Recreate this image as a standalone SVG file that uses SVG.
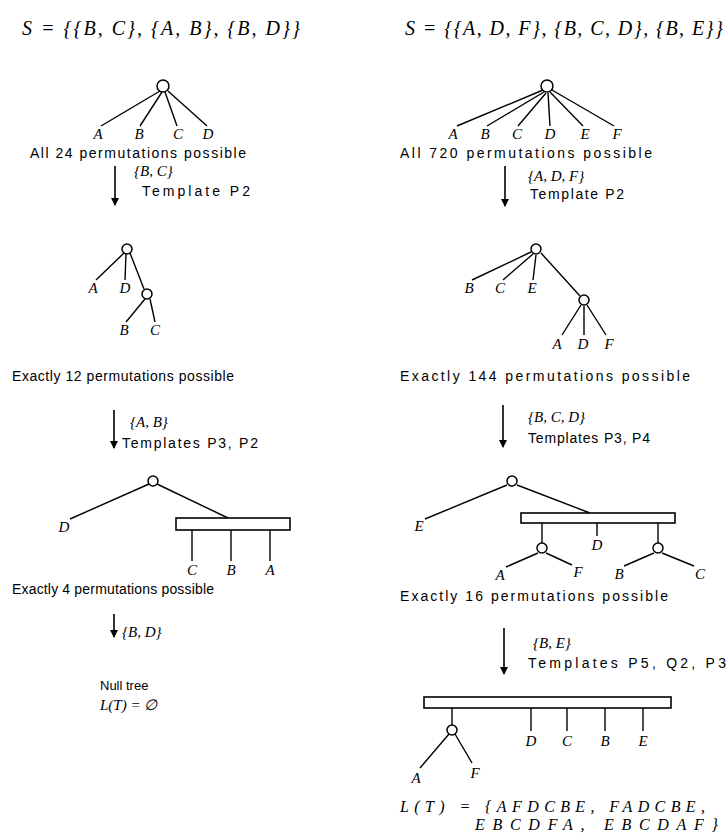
<svg xmlns="http://www.w3.org/2000/svg" width="728" height="837" viewBox="0 0 728 837">
<style>
.t{font-family:"Liberation Sans",Arial,sans-serif;font-size:14px;fill:#000}
.v{font-family:"Liberation Serif","Times New Roman",serif;font-style:italic;font-size:15px;fill:#000}
.ttl{font-family:"Liberation Serif","Times New Roman",serif;font-style:italic;font-size:20px;fill:#000}
.lt{font-family:"Liberation Serif","Times New Roman",serif;font-style:italic;font-size:16px;fill:#000}
.e{stroke:#000;stroke-width:1.4;fill:none}
.p{stroke:#000;stroke-width:1.5;fill:#fff}
.q{stroke:#000;stroke-width:1.6;fill:#fff}
.a{stroke:#000;stroke-width:1.6;fill:none;marker-end:url(#ah)}
</style>
<defs>
<marker id="ah" markerWidth="8" markerHeight="8" refX="7" refY="4" orient="auto" markerUnits="userSpaceOnUse">
<path d="M0,0 L8,4 L0,8 Z" fill="#000"/>
</marker>
</defs>

<!-- ===== LEFT COLUMN ===== -->
<g id="left-title"><text class="ttl" x="22" y="35" textLength="278" lengthAdjust="spacing">S = {{B, C}, {A, B}, {B, D}}</text></g>

<g id="connectors">
<!-- left tree 1 -->
<line class="e" x1="160" y1="91" x2="101" y2="126"/>
<line class="e" x1="162" y1="92" x2="140" y2="126"/>
<line class="e" x1="165" y1="92" x2="177" y2="126"/>
<line class="e" x1="168" y1="91" x2="207" y2="126"/>
<!-- left tree 2 -->
<line class="e" x1="124" y1="253" x2="96" y2="280"/>
<line class="e" x1="126" y1="254" x2="125" y2="280"/>
<line class="e" x1="130" y1="253" x2="144" y2="289"/>
<line class="e" x1="145" y1="299" x2="126" y2="322"/>
<line class="e" x1="150" y1="299" x2="155" y2="322"/>
<!-- left tree 3 -->
<line class="e" x1="149" y1="484" x2="70" y2="519"/>
<line class="e" x1="157" y1="484" x2="228" y2="518"/>
<line class="e" x1="192" y1="530" x2="192" y2="561"/>
<line class="e" x1="231" y1="530" x2="231" y2="561"/>
<line class="e" x1="270" y1="530" x2="270" y2="561"/>
<!-- right tree 1 -->
<line class="e" x1="543" y1="90" x2="457" y2="126"/>
<line class="e" x1="544" y1="92" x2="487" y2="126"/>
<line class="e" x1="546" y1="93" x2="518" y2="126"/>
<line class="e" x1="548" y1="93" x2="550" y2="126"/>
<line class="e" x1="550" y1="92" x2="583" y2="126"/>
<line class="e" x1="552" y1="90" x2="614" y2="126"/>
<!-- right tree 2 -->
<line class="e" x1="531" y1="252" x2="472" y2="280"/>
<line class="e" x1="533" y1="254" x2="503" y2="280"/>
<line class="e" x1="536" y1="255" x2="533" y2="280"/>
<line class="e" x1="541" y1="253" x2="580" y2="296"/>
<line class="e" x1="581" y1="305" x2="562" y2="335"/>
<line class="e" x1="584" y1="306" x2="584" y2="335"/>
<line class="e" x1="587" y1="305" x2="606" y2="335"/>
<!-- right tree 3 -->
<line class="e" x1="507" y1="485" x2="425" y2="519"/>
<line class="e" x1="517" y1="485" x2="590" y2="513"/>
<line class="e" x1="542" y1="523" x2="542" y2="543"/>
<line class="e" x1="597" y1="523" x2="597" y2="536"/>
<line class="e" x1="658" y1="523" x2="658" y2="543"/>
<line class="e" x1="538" y1="553" x2="506" y2="567"/>
<line class="e" x1="546" y1="553" x2="572" y2="565"/>
<line class="e" x1="654" y1="553" x2="624" y2="566"/>
<line class="e" x1="662" y1="553" x2="694" y2="566"/>
<!-- right tree 4 -->
<line class="e" x1="452" y1="708" x2="452" y2="725"/>
<line class="e" x1="449" y1="734" x2="420" y2="768"/>
<line class="e" x1="455" y1="734" x2="472" y2="763"/>
<line class="e" x1="531" y1="708" x2="531" y2="731"/>
<line class="e" x1="567" y1="708" x2="567" y2="731"/>
<line class="e" x1="605" y1="708" x2="605" y2="731"/>
<line class="e" x1="643" y1="708" x2="643" y2="731"/>
<!-- arrows -->
<line class="a" x1="115" y1="166" x2="115" y2="205"/>
<line class="a" x1="114" y1="410" x2="114" y2="448"/>
<line class="a" x1="114" y1="614" x2="114" y2="637"/>
<line class="a" x1="505" y1="166" x2="505" y2="206"/>
<line class="a" x1="503" y1="405" x2="503" y2="447"/>
<line class="a" x1="504" y1="628" x2="504" y2="674"/>
</g>

<g id="l1-root"><circle class="p" cx="163" cy="86" r="6"/></g>
<g id="l1-leaves">
<text class="v" x="98" y="139" text-anchor="middle">A</text>
<text class="v" x="139" y="139" text-anchor="middle">B</text>
<text class="v" x="178" y="139" text-anchor="middle">C</text>
<text class="v" x="208" y="139" text-anchor="middle">D</text>
</g>
<g id="l1-caption"><text class="t" x="30" y="158" textLength="216" lengthAdjust="spacing">All 24 permutations possible</text></g>
<g id="l-step1">
<text class="v" x="134" y="176">{B, C}</text>
<text class="t" x="142" y="196" textLength="108" lengthAdjust="spacing">Template P2</text>
</g>

<g id="l2-root"><circle class="p" cx="127" cy="249" r="5"/></g>
<g id="l2-pnode"><circle class="p" cx="147" cy="294" r="5"/></g>
<g id="l2-leaves">
<text class="v" x="93" y="293" text-anchor="middle">A</text>
<text class="v" x="125" y="293" text-anchor="middle">D</text>
<text class="v" x="124" y="335" text-anchor="middle">B</text>
<text class="v" x="155" y="335" text-anchor="middle">C</text>
</g>
<g id="l2-caption"><text class="t" x="12" y="381" textLength="222" lengthAdjust="spacing">Exactly 12 permutations possible</text></g>
<g id="l-step2">
<text class="v" x="130" y="427">{A, B}</text>
<text class="t" x="122" y="448" textLength="136" lengthAdjust="spacing">Templates P3, P2</text>
</g>

<g id="l3-root"><circle class="p" cx="153" cy="481" r="5"/></g>
<g id="l3-qnode"><rect class="q" x="176" y="518" width="114" height="12"/></g>
<g id="l3-leaves">
<text class="v" x="64" y="532" text-anchor="middle">D</text>
<text class="v" x="192" y="575" text-anchor="middle">C</text>
<text class="v" x="231" y="575" text-anchor="middle">B</text>
<text class="v" x="270" y="575" text-anchor="middle">A</text>
</g>
<g id="l3-caption"><text class="t" x="12" y="594" textLength="202" lengthAdjust="spacing">Exactly 4 permutations possible</text></g>
<g id="l-step3"><text class="v" x="122" y="637">{B, D}</text></g>
<g id="l-null">
<text class="t" x="100" y="690" style="font-size:13px">Null tree</text>
<text class="v" x="100" y="710">L(T) = ∅</text>
</g>

<!-- ===== RIGHT COLUMN ===== -->
<g id="right-title"><text class="ttl" x="405" y="35" textLength="318" lengthAdjust="spacing">S = {{A, D, F}, {B, C, D}, {B, E}}</text></g>

<g id="r1-root"><circle class="p" cx="547" cy="86" r="6"/></g>
<g id="r1-leaves">
<text class="v" x="453" y="139" text-anchor="middle">A</text>
<text class="v" x="485" y="139" text-anchor="middle">B</text>
<text class="v" x="517" y="139" text-anchor="middle">C</text>
<text class="v" x="550" y="139" text-anchor="middle">D</text>
<text class="v" x="585" y="139" text-anchor="middle">E</text>
<text class="v" x="617" y="139" text-anchor="middle">F</text>
</g>
<g id="r1-caption"><text class="t" x="400" y="158" textLength="252" lengthAdjust="spacing">All 720 permutations possible</text></g>
<g id="r-step1">
<text class="v" x="528" y="181">{A, D, F}</text>
<text class="t" x="530" y="199" textLength="94" lengthAdjust="spacing">Template P2</text>
</g>

<g id="r2-root"><circle class="p" cx="536" cy="249" r="5"/></g>
<g id="r2-pnode"><circle class="p" cx="584" cy="300" r="5"/></g>
<g id="r2-leaves">
<text class="v" x="469" y="293" text-anchor="middle">B</text>
<text class="v" x="500" y="293" text-anchor="middle">C</text>
<text class="v" x="532" y="293" text-anchor="middle">E</text>
<text class="v" x="557" y="349" text-anchor="middle">A</text>
<text class="v" x="583" y="349" text-anchor="middle">D</text>
<text class="v" x="609" y="349" text-anchor="middle">F</text>
</g>
<g id="r2-caption"><text class="t" x="400" y="381" textLength="290" lengthAdjust="spacing">Exactly 144 permutations possible</text></g>
<g id="r-step2">
<text class="v" x="528" y="422">{B, C, D}</text>
<text class="t" x="528" y="443" textLength="122" lengthAdjust="spacing">Templates P3, P4</text>
</g>

<g id="r3-root"><circle class="p" cx="512" cy="481" r="5"/></g>
<g id="r3-qnode"><rect class="q" x="521" y="513" width="154" height="10"/></g>
<g id="r3-pnode1"><circle class="p" cx="542" cy="548" r="5"/></g>
<g id="r3-pnode2"><circle class="p" cx="658" cy="548" r="5"/></g>
<g id="r3-leaves">
<text class="v" x="419" y="531" text-anchor="middle">E</text>
<text class="v" x="597" y="550" text-anchor="middle">D</text>
<text class="v" x="500" y="580" text-anchor="middle">A</text>
<text class="v" x="578" y="577" text-anchor="middle">F</text>
<text class="v" x="619" y="579" text-anchor="middle">B</text>
<text class="v" x="700" y="579" text-anchor="middle">C</text>
</g>
<g id="r3-caption"><text class="t" x="400" y="601" textLength="268" lengthAdjust="spacing">Exactly 16 permutations possible</text></g>
<g id="r-step3">
<text class="v" x="533" y="648">{B, E}</text>
<text class="t" x="528" y="668" textLength="198" lengthAdjust="spacing">Templates P5, Q2, P3</text>
</g>

<g id="r4-qnode"><rect class="q" x="424" y="697" width="247" height="11"/></g>
<g id="r4-pnode"><circle class="p" cx="452" cy="730" r="5"/></g>
<g id="r4-leaves">
<text class="v" x="416" y="783" text-anchor="middle">A</text>
<text class="v" x="475" y="778" text-anchor="middle">F</text>
<text class="v" x="531" y="746" text-anchor="middle">D</text>
<text class="v" x="567" y="746" text-anchor="middle">C</text>
<text class="v" x="605" y="746" text-anchor="middle">B</text>
<text class="v" x="643" y="746" text-anchor="middle">E</text>
</g>
<g id="r4-result">
<text class="lt" x="400" y="812" textLength="305" lengthAdjust="spacing">L(T) = {AFDCBE, FADCBE,</text>
<text class="lt" x="475" y="830" textLength="243" lengthAdjust="spacing">EBCDFA, EBCDAF}</text>
</g>
</svg>
